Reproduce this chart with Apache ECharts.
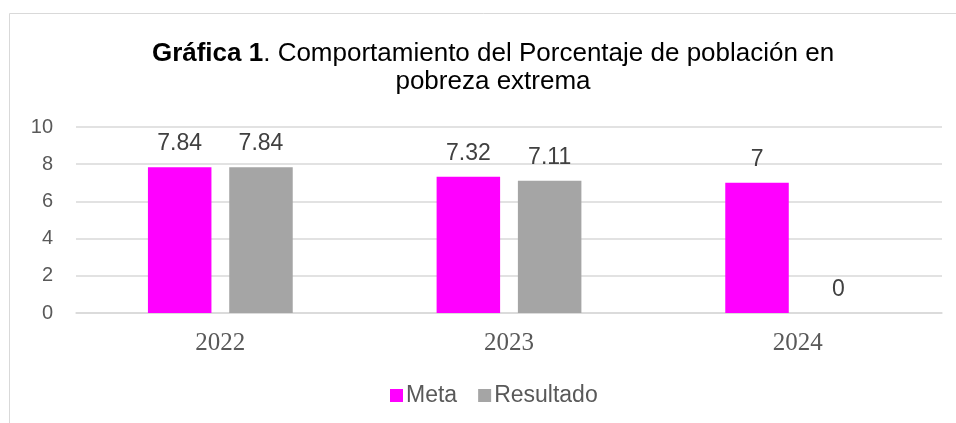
<!DOCTYPE html>
<html>
<head>
<meta charset="utf-8">
<script src="https://cdn.jsdelivr.net/npm/echarts@6/dist/echarts.min.js"></script>
<style>
  html, body { margin: 0; padding: 0; background: #fff; }
  #chart { width: 956px; height: 423px; }
</style>
</head>
<body>
<div id="chart"></div>
<script>
'use strict';
var years = ['2022', '2023', '2024'];
var meta = [7.84, 7.32, 7];
var resultado = [7.84, 7.11, 0];

var chart = echarts.init(document.getElementById('chart'));

var labelStyle = {
  show: true,
  position: 'top',
  distance: 12,
  color: '#404040',
  fontSize: 23,
  fontFamily: 'Liberation Sans, Arial, sans-serif'
};

chart.setOption({
  animation: false,
  graphic: [{
    // marco del gráfico
    type: 'rect',
    shape: { x: 9.5, y: 13.5, width: 1000, height: 500 },
    style: { fill: 'none', stroke: '#d9d9d9', lineWidth: 1 },
    silent: true
  }],
  title: {
    text: '{b|Gráfica 1}. Comportamiento del Porcentaje de población en\npobreza extrema',
    left: 488,
    textAlign: 'center',
    top: 35,
    textStyle: {
      color: '#000',
      fontSize: 26,
      fontWeight: 'normal',
      fontFamily: 'Liberation Sans, Arial, sans-serif',
      lineHeight: 28,
      rich: {
        b: {
          fontWeight: 'bold',
          fontSize: 26,
          color: '#000',
          fontFamily: 'Liberation Sans, Arial, sans-serif'
        }
      }
    }
  },
  legend: {
    data: ['Meta', 'Resultado'],
    bottom: 11,
    left: 385,
    itemWidth: 13,
    itemHeight: 13,
    itemGap: 21,
    icon: 'rect',
    textStyle: {
      color: '#595959',
      fontSize: 23,
      fontFamily: 'Liberation Sans, Arial, sans-serif',
      padding: [0, 0, 0, -2]
    }
  },
  grid: {
    left: 76,
    right: 14,
    top: 127,
    bottom: 110
  },
  xAxis: {
    type: 'category',
    data: years,
    axisTick: { show: false },
    axisLine: { lineStyle: { color: '#d9d9d9', width: 1.5 } },
    axisLabel: {
      color: '#595959',
      fontSize: 25,
      fontFamily: 'Liberation Serif, DejaVu Serif, serif',
      margin: 18
    }
  },
  yAxis: {
    type: 'value',
    min: 0,
    max: 10,
    interval: 2,
    axisLine: { show: false },
    axisTick: { show: false },
    splitLine: { lineStyle: { color: '#d9d9d9', width: 1.5 } },
    axisLabel: {
      color: '#595959',
      fontSize: 20,
      fontFamily: 'Liberation Sans, Arial, sans-serif',
      margin: 23
    }
  },
  series: [{
    name: 'Meta',
    type: 'bar',
    data: meta,
    barWidth: '22%',
    barGap: '28%',
    itemStyle: { color: '#ff00ff' },
    label: labelStyle
  }, {
    name: 'Resultado',
    type: 'bar',
    data: resultado,
    barWidth: '22%',
    itemStyle: { color: '#a5a5a5' },
    label: labelStyle
  }]
});
</script>
</body>
</html>
